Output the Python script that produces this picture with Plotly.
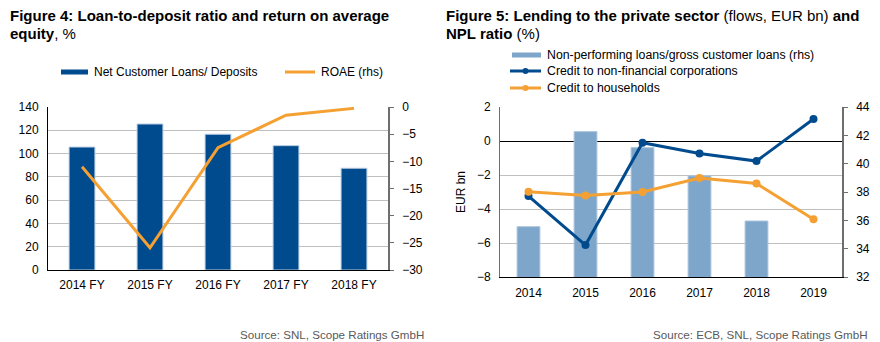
import plotly.graph_objects as go

# Figure 4 data
years_fy = ["2014 FY", "2015 FY", "2016 FY", "2017 FY", "2018 FY"]
loans_to_deposits = [105.6, 125.4, 116.6, 106.8, 87.4]
roae = [-11.0, -25.9, -7.5, -1.5, -0.25]

# Figure 5 data
years = ["2014", "2015", "2016", "2017", "2018", "2019"]
npl_ratio = [35.55, 42.26, 41.13, 39.13, 35.95, None]
credit_nfc = [-3.24, -6.12, -0.1, -0.73, -1.18, 1.29]
credit_households = [-2.98, -3.2, -3.0, -2.18, -2.5, -4.6]

W, H = 880, 342
FONT = "Liberation Sans, Arial, sans-serif"
DARK_BLUE = "#004B8D"
ORANGE = "#F5A032"
LIGHT_BLUE = "#7EA6CA"
GRID = "#BFBFBF"
AXIS_GREY = "#6E6E6E"


def px(x):
    return x / W


def py(y):
    return 1 - y / H


fig = go.Figure()

fig.add_trace(go.Bar(x=years_fy, y=loans_to_deposits, xaxis="x", yaxis="y",
                     width=0.38, marker=dict(color=DARK_BLUE, line=dict(color="#B9CCE2", width=1)),
                     showlegend=False))
fig.add_trace(go.Scatter(x=years_fy, y=roae, xaxis="x", yaxis="y2", mode="lines",
                         line=dict(color=ORANGE, width=3), showlegend=False))

fig.add_trace(go.Bar(x=years, y=npl_ratio, xaxis="x2", yaxis="y3",
                     width=0.4, marker=dict(color=LIGHT_BLUE, line=dict(color="#A9C3DC", width=1)),
                     showlegend=False))
fig.add_trace(go.Scatter(x=years, y=credit_nfc, xaxis="x2", yaxis="y4", mode="lines+markers",
                         line=dict(color=DARK_BLUE, width=3), marker=dict(size=8, color=DARK_BLUE),
                         showlegend=False))
fig.add_trace(go.Scatter(x=years, y=credit_households, xaxis="x2", yaxis="y4", mode="lines+markers",
                         line=dict(color=ORANGE, width=3), marker=dict(size=8, color=ORANGE),
                         showlegend=False))

tick_font = dict(family=FONT, size=12, color="#000000")

fig.update_layout(
    width=W, height=H,
    margin=dict(l=0, r=0, t=0, b=0, pad=0, autoexpand=False),
    showlegend=False,
    paper_bgcolor="white", plot_bgcolor="white",
    font=dict(family=FONT, size=12, color="#000000"),
    xaxis=dict(domain=[px(48), px(388)], anchor="y", range=[-0.5, 4.5], automargin=False,
               showline=True, linecolor="#000000", linewidth=1, ticks="",
               showgrid=False, tickfont=tick_font, ticklabelstandoff=4),
    yaxis=dict(domain=[py(270), py(107)], anchor="x", range=[0, 140], dtick=20, automargin=False,
               showline=True, linecolor="#000000", linewidth=1, ticks="",
               showgrid=True, gridcolor=GRID, gridwidth=1, zeroline=False,
               tickfont=tick_font, ticklabelstandoff=6),
    yaxis2=dict(overlaying="y", side="right", anchor="x", range=[-30, 0], dtick=5, automargin=False,
                showline=True, linecolor=AXIS_GREY, linewidth=1.5, ticks="outside",
                ticklen=4, tickcolor=AXIS_GREY, showgrid=False, zeroline=False,
                tickfont=tick_font, ticklabelstandoff=6),
    xaxis2=dict(domain=[px(500), px(842)], anchor="y3", range=[-0.5, 5.5], automargin=False,
                showline=True, linecolor="#000000", linewidth=1, ticks="",
                showgrid=False, tickfont=tick_font, ticklabelstandoff=5),
    yaxis3=dict(domain=[py(277), py(107)], anchor="x2", side="right", range=[32, 44], dtick=2,
                automargin=False,
                showline=True, linecolor=AXIS_GREY, linewidth=1.5, ticks="outside",
                ticklen=4, tickcolor=AXIS_GREY, showgrid=False, zeroline=False,
                tickfont=tick_font, ticklabelstandoff=6),
    yaxis4=dict(overlaying="y3", side="left", anchor="x2", range=[-8, 2], dtick=2, automargin=False,
                showline=True, linecolor=AXIS_GREY, linewidth=1, ticks="",
                showgrid=True, gridcolor=GRID, gridwidth=1,
                zeroline=True, zerolinecolor="#000000", zerolinewidth=1,
                tickfont=tick_font, ticklabelstandoff=6,
                title=dict(text="EUR bn", font=dict(family=FONT, size=12), standoff=8)),
)

annotations = []
shapes = []


def text(x, y, s, size=12, anchor="left", color="#000000", valign="middle"):
    annotations.append(dict(x=px(x), y=py(y), xref="paper", yref="paper", text=s,
                            showarrow=False, xanchor=anchor, yanchor=valign,
                            font=dict(family=FONT, size=size, color=color)))


# Titles
text(8, 15, "<b>Figure 4: Loan-to-deposit ratio and return on average</b>", size=15)
text(8, 34, "<b>equity</b>, %", size=15)
text(444, 15, "<b>Figure 5: Lending to the private sector</b> (flows, EUR bn) <b>and</b>", size=15)
text(444, 34, "<b>NPL ratio</b> (%)", size=15)

# Legend, left chart
shapes.append(dict(type="rect", xref="paper", yref="paper", x0=px(61), x1=px(88),
                   y0=py(74.5), y1=py(69.5), fillcolor=DARK_BLUE, line=dict(width=0)))
text(92, 72, "Net Customer Loans/ Deposits")
shapes.append(dict(type="line", xref="paper", yref="paper", x0=px(285), x1=px(315),
                   y0=py(72), y1=py(72), line=dict(color=ORANGE, width=3)))
text(319, 72, "ROAE (rhs)")

# Legend, right chart
shapes.append(dict(type="rect", xref="paper", yref="paper", x0=px(512), x1=px(541),
                   y0=py(57.5), y1=py(52.5), fillcolor=LIGHT_BLUE, line=dict(width=0)))
text(545, 55, "Non-performing loans/gross customer loans (rhs)", size=12.3)
for yy, col, label in [(71, DARK_BLUE, "Credit to non-financial corporations"),
                       (88, ORANGE, "Credit to households")]:
    shapes.append(dict(type="line", xref="paper", yref="paper", x0=px(510), x1=px(541),
                       y0=py(yy), y1=py(yy), line=dict(color=col, width=3)))
    shapes.append(dict(type="circle", xref="paper", yref="paper", x0=px(522.5), x1=px(528.5),
                       y0=py(yy + 3), y1=py(yy - 3), fillcolor=col, line=dict(width=0)))
    text(545, yy, label, size=12.3)

# Sources
text(426, 334, "Source: SNL, Scope Ratings GmbH", size=11.6, anchor="right", color="#595959")
text(870, 334, "Source: ECB, SNL, Scope Ratings GmbH", size=11.6, anchor="right", color="#595959")

fig.update_layout(annotations=annotations, shapes=shapes)

fig.write_html("out.html")
